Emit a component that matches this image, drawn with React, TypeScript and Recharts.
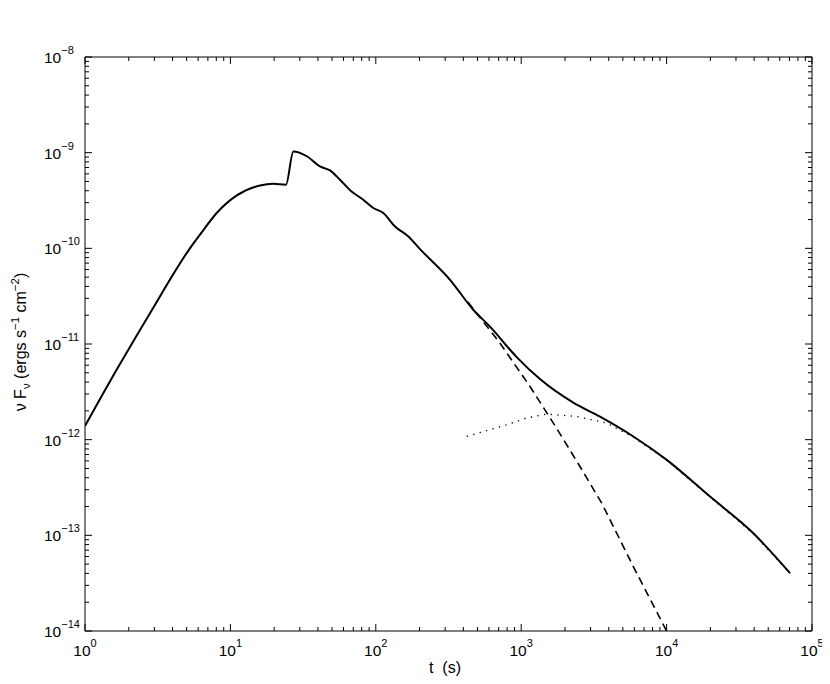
import React from "react";
import { LineChart, Line, XAxis, YAxis } from "recharts";

// ---- data ----
const totalT = [1, 1.65, 2.8, 5.27, 6.18, 8.05, 11.0, 16.0, 19.7, 24.1, 27.1, 33.8, 41.3, 48.4, 56.7, 68.2, 82.0, 96.1, 112.6, 135.6, 167.4, 201.4, 324, 468, 610, 931, 1346, 2281, 3483, 5904, 10020, 19900, 39500, 70600];
const totalF = [1.39e-12, 5.37e-12, 2.1e-11, 1.0e-10, 1.39e-10, 2.34e-10, 3.55e-10, 4.54e-10, 4.73e-10, 4.62e-10, 1.03e-9, 9.12e-10, 7.18e-10, 6.52e-10, 5.21e-10, 3.93e-10, 3.22e-10, 2.64e-10, 2.34e-10, 1.69e-10, 1.33e-10, 9.82e-11, 4.69e-11, 2.28e-11, 1.52e-11, 7.3e-12, 4.3e-12, 2.44e-12, 1.74e-12, 1.08e-12, 6.15e-13, 2.54e-13, 1.05e-13, 4.02e-14];

const earlyT = [430, 715, 1150, 1665, 2536, 3579, 5904, 10000];
const earlyF = [2.75e-11, 1.02e-11, 3.59e-12, 1.49e-12, 5.24e-13, 2.17e-13, 4.71e-14, 1.0e-14];

const lateT = [422, 795, 1089, 1497, 2409, 3869, 5904, 10020, 19900, 39500, 70600];
const lateF = [1.08e-12, 1.43e-12, 1.68e-12, 1.85e-12, 1.75e-12, 1.49e-12, 1.06e-12, 6.1e-13, 2.52e-13, 1.04e-13, 4.0e-14];

const xMajor = [1, 10, 100, 1000, 10000, 100000];
const xExp = ["0", "1", "2", "3", "4", "5"];
const yMajor = [1e-14, 1e-13, 1e-12, 1e-11, 1e-10, 1e-9, 1e-8];
const yExp = ["\u221214", "\u221213", "\u221212", "\u221211", "\u221210", "\u22129", "\u22128"];
const minorMult = [2, 3, 4, 5, 6, 7, 8, 9];

const toRows = (ts: number[], fs: number[]) => ts.map((t, i) => ({ t, f: fs[i] }));
const totalData = toRows(totalT, totalF);
const earlyData = toRows(earlyT, earlyF);
const lateData = toRows(lateT, lateF);

const withMinor = (major: number[]) => {
  const out: number[] = [];
  major.forEach((m, i) => {
    out.push(m);
    if (i < major.length - 1) minorMult.forEach((k) => out.push(m * k));
  });
  return out;
};
const xTicks = withMinor(xMajor);
const yTicks = withMinor(yMajor);

const FONT = "'Liberation Sans', Arial, Helvetica, sans-serif";
const majorIndex = (arr: number[], v: number) =>
  arr.findIndex((m) => Math.abs(Math.log10(m) - Math.log10(v)) < 1e-6);

const MAJ = 7;
const MIN = 4;

const BottomTick = (p: any) => {
  const { x, y, payload } = p;
  const i = majorIndex(xMajor, payload.value);
  const len = i >= 0 ? MAJ : MIN;
  return (
    <g>
      <line x1={x} x2={x} y1={y} y2={y - len} stroke="#000" strokeWidth={1} />
      {i >= 0 && (
        <text x={x} y={y + 25} textAnchor="middle" fontSize={15.5} fontFamily={FONT} fill="#000">
          <tspan>10</tspan>
          <tspan dy={-9} fontSize={11}>{xExp[i]}</tspan>
        </text>
      )}
    </g>
  );
};

const TopTick = (p: any) => {
  const { x, y, payload } = p;
  const i = majorIndex(xMajor, payload.value);
  const len = i >= 0 ? MAJ : MIN;
  return <line x1={x} x2={x} y1={y} y2={y + len} stroke="#000" strokeWidth={1} />;
};

const LeftTick = (p: any) => {
  const { x, y, payload } = p;
  const i = majorIndex(yMajor, payload.value);
  const len = i >= 0 ? MAJ : MIN;
  return (
    <g>
      <line x1={x} x2={x + len} y1={y} y2={y} stroke="#000" strokeWidth={1} />
      {i >= 0 && (
        <text x={x - 41} y={y + 6} textAnchor="start" fontSize={15.5} fontFamily={FONT} fill="#000">
          <tspan>10</tspan>
          <tspan dy={-9} fontSize={11}>{yExp[i]}</tspan>
        </text>
      )}
    </g>
  );
};

const RightTick = (p: any) => {
  const { x, y, payload } = p;
  const i = majorIndex(yMajor, payload.value);
  const len = i >= 0 ? MAJ : MIN;
  return <line x1={x} x2={x - len} y1={y} y2={y} stroke="#000" strokeWidth={1} />;
};

const XTitle = () => (
  <text x={437} y={665} textAnchor="middle" fontSize={16} fontFamily={FONT} fill="#000">
    {"t\u00a0\u00a0(s)"}
  </text>
);

const YTitle = () => (
  <text transform="translate(18,334) rotate(-90)" textAnchor="middle" fontSize={16} fontFamily={FONT} fill="#000">
    <tspan>{"\u03bd F"}</tspan>
    <tspan dy={4} fontSize={11.5}>{"\u03bd"}</tspan>
    <tspan dy={-4}>{" (ergs s"}</tspan>
    <tspan dy={-7} fontSize={11.5}>{"\u22121"}</tspan>
    <tspan dy={7}>{" cm"}</tspan>
    <tspan dy={-7} fontSize={11.5}>{"\u22122"}</tspan>
    <tspan dy={7}>{")"}</tspan>
  </text>
);

export default function App() {
  return (
    <LineChart width={822} height={668} margin={{ top: 48, right: 17, bottom: 0, left: 0 }}>
      <XAxis
        dataKey="t"
        type="number"
        scale="log"
        domain={[1, 100000]}
        allowDataOverflow
        ticks={xTicks}
        interval={0}
        tickSize={0}
        tickMargin={0}
        tickLine={false}
        tick={BottomTick}
        height={45}
        axisLine={{ stroke: "#000", strokeWidth: 1 }}
        label={{ content: XTitle }}
      />
      <XAxis
        xAxisId="top"
        orientation="top"
        dataKey="t"
        type="number"
        scale="log"
        domain={[1, 100000]}
        allowDataOverflow
        ticks={xTicks}
        interval={0}
        tickSize={0}
        tickMargin={0}
        tickLine={false}
        tick={TopTick}
        height={1}
        axisLine={{ stroke: "#000", strokeWidth: 1 }}
      />
      <YAxis
        dataKey="f"
        type="number"
        scale="log"
        domain={[1e-14, 1e-8]}
        allowDataOverflow
        ticks={yTicks}
        interval={0}
        tickSize={0}
        tickMargin={0}
        tickLine={false}
        tick={LeftTick}
        width={77}
        axisLine={{ stroke: "#000", strokeWidth: 1 }}
        label={{ content: YTitle }}
      />
      <YAxis
        yAxisId="right"
        orientation="right"
        dataKey="f"
        type="number"
        scale="log"
        domain={[1e-14, 1e-8]}
        allowDataOverflow
        ticks={yTicks}
        interval={0}
        tickSize={0}
        tickMargin={0}
        tickLine={false}
        tick={RightTick}
        width={1}
        axisLine={{ stroke: "#000", strokeWidth: 1 }}
      />
      <Line data={lateData} xAxisId="top" yAxisId="right" dataKey="f" type="linear" stroke="#000" strokeWidth={1.3} strokeDasharray="1.3 5.4" dot={false} isAnimationActive={false} />
      <Line data={earlyData} dataKey="f" type="linear" stroke="#000" strokeWidth={1.6} strokeDasharray="8 5" dot={false} isAnimationActive={false} />
      <Line data={totalData} dataKey="f" type="monotone" stroke="#000" strokeWidth={2} dot={false} isAnimationActive={false} />
    </LineChart>
  );
}
